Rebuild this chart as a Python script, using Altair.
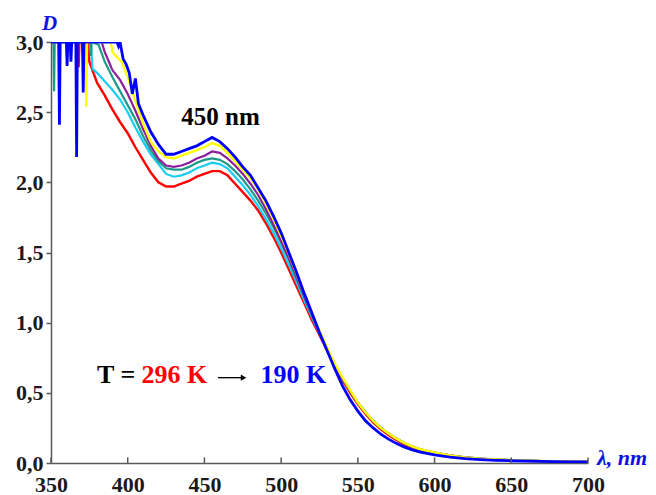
import altair as alt
import pandas as pd

# ---------------- data ----------------
X_TICKS = [350, 400, 450, 500, 550, 600, 650, 700]
Y_TICKS = [0.0, 0.5, 1.0, 1.5, 2.0, 2.5, 3.0]

CURVES = ["296 K", "T2", "T3", "T4", "T5", "190 K"]
COLORS = ["#ff0000", "#18ccf5", "#1f9a8a", "#8c1f9c", "#ffff00", "#0000ff"]
WIDTHS = [2.4, 2.2, 2.2, 2.2, 2.4, 2.8]

# saturated / noisy start of each spectrum
RED_HEAD_LAM = [350, 367.5, 368, 368.5, 374, 375, 380, 385, 390, 395, 400, 405]
RED_HEAD_D = [3.0, 3.0, 2.82, 3.0, 3.0, 2.86, 2.71, 2.62, 2.52, 2.43, 2.35, 2.25]

CYAN_HEAD_LAM = [350, 376, 377, 380, 385, 390, 395, 400, 405]
CYAN_HEAD_D = [3.0, 3.0, 2.81, 2.78, 2.72, 2.66, 2.59, 2.50, 2.39]

TEAL_HEAD_LAM = [350, 351.6, 352, 352.4, 375.5, 376, 376.5, 381, 385, 390, 395, 400, 405]
TEAL_HEAD_D = [3.0, 3.0, 2.65, 3.0, 3.0, 2.90, 3.0, 2.98, 2.86, 2.75, 2.65, 2.55, 2.45]

PURPLE_HEAD_LAM = [350, 383, 385, 388.5, 390, 395, 400, 405]
PURPLE_HEAD_D = [3.0, 3.0, 2.93, 2.84, 2.80, 2.73, 2.63, 2.51]

YELLOW_HEAD_LAM = [350, 372.5, 373, 373.5, 389, 390, 393, 396, 400, 405]
YELLOW_HEAD_D = [3.0, 3.0, 2.54, 3.0, 3.0, 2.93, 2.89, 2.86, 2.75, 2.58]

BLUE_HEAD_LAM = [350, 355, 355.5, 356, 360, 360.5, 361, 362.5, 363, 363.5,
                 366.2, 366.7, 367.2, 370.5, 371, 371.5, 393, 394, 395, 397,
                 399, 401, 403, 405, 407]
BLUE_HEAD_D = [3.0, 3.0, 2.41, 3.0, 3.0, 2.83, 3.0, 3.0, 2.86, 3.0,
               3.0, 2.18, 3.0, 3.0, 2.64, 3.0, 3.0, 2.97, 3.0, 2.88,
               2.84, 2.78, 2.63, 2.74, 2.56]

# common wavelength grid for the rest of each spectrum
LAM_BODY = [410, 415, 420, 425, 430, 435, 440, 445, 450, 455, 460,
            465, 470, 475, 480, 485, 490, 495, 500, 505, 510, 515, 520, 525, 530,
            535, 540, 545, 550, 555, 560, 565, 570, 575, 580, 585, 590, 595, 600,
            610, 620, 630, 640, 650, 660, 670, 680, 690, 700]

RED_BODY = [2.16, 2.07, 2.00, 1.97, 1.97, 1.99, 2.01, 2.04, 2.06, 2.08, 2.08,
            2.05, 1.99, 1.93, 1.87, 1.80, 1.71, 1.61, 1.50, 1.38, 1.26, 1.14, 1.02, 0.91, 0.80,
            0.69, 0.59, 0.50, 0.42, 0.35, 0.29, 0.24, 0.20, 0.165, 0.135, 0.11, 0.095, 0.082, 0.07,
            0.05, 0.037, 0.029, 0.023, 0.019, 0.016, 0.013, 0.011, 0.009, 0.008]
CYAN_BODY = [2.29, 2.20, 2.13, 2.06, 2.04, 2.05, 2.07, 2.10, 2.12, 2.14, 2.13,
             2.10, 2.04, 1.98, 1.91, 1.83, 1.74, 1.64, 1.53, 1.41, 1.29, 1.16, 1.04, 0.92, 0.81,
             0.70, 0.60, 0.51, 0.43, 0.36, 0.30, 0.25, 0.21, 0.172, 0.142, 0.118, 0.099, 0.085, 0.073,
             0.053, 0.039, 0.030, 0.024, 0.020, 0.017, 0.014, 0.012, 0.010, 0.009]
TEAL_BODY = [2.33, 2.23, 2.15, 2.10, 2.09, 2.09, 2.11, 2.14, 2.16, 2.17, 2.16,
             2.13, 2.08, 2.02, 1.95, 1.87, 1.78, 1.68, 1.57, 1.45, 1.31, 1.18, 1.05, 0.93, 0.81,
             0.70, 0.60, 0.51, 0.43, 0.36, 0.30, 0.25, 0.21, 0.174, 0.144, 0.12, 0.10, 0.086, 0.074,
             0.054, 0.040, 0.031, 0.025, 0.021, 0.017, 0.014, 0.012, 0.010, 0.009]
PURPLE_BODY = [2.38, 2.26, 2.17, 2.12, 2.11, 2.12, 2.14, 2.17, 2.19, 2.22, 2.21,
               2.17, 2.12, 2.06, 1.99, 1.91, 1.81, 1.70, 1.58, 1.46, 1.33, 1.19, 1.06, 0.93, 0.81,
               0.70, 0.60, 0.51, 0.43, 0.36, 0.30, 0.25, 0.21, 0.174, 0.144, 0.12, 0.10, 0.086, 0.074,
               0.054, 0.040, 0.031, 0.025, 0.021, 0.017, 0.014, 0.012, 0.010, 0.009]
YELLOW_BODY = [2.42, 2.29, 2.22, 2.18, 2.17, 2.19, 2.21, 2.23, 2.25, 2.28, 2.26,
               2.21, 2.15, 2.09, 2.03, 1.95, 1.85, 1.74, 1.62, 1.49, 1.35, 1.21, 1.07, 0.94, 0.82,
               0.71, 0.61, 0.52, 0.43, 0.36, 0.30, 0.25, 0.21, 0.175, 0.145, 0.12, 0.10, 0.087, 0.075,
               0.054, 0.040, 0.031, 0.025, 0.021, 0.017, 0.014, 0.012, 0.010, 0.009]
BLUE_BODY = [2.48, 2.36, 2.27, 2.20, 2.20, 2.22, 2.24, 2.26, 2.29, 2.32, 2.29,
             2.24, 2.18, 2.11, 2.05, 1.96, 1.87, 1.76, 1.64, 1.50, 1.36, 1.21, 1.07, 0.93, 0.80,
             0.67, 0.55, 0.45, 0.37, 0.30, 0.25, 0.205, 0.17, 0.14, 0.115, 0.095, 0.08, 0.068, 0.058,
             0.042, 0.031, 0.024, 0.019, 0.016, 0.013, 0.011, 0.009, 0.008, 0.007]

HEADS_LAM = [RED_HEAD_LAM, CYAN_HEAD_LAM, TEAL_HEAD_LAM, PURPLE_HEAD_LAM, YELLOW_HEAD_LAM, BLUE_HEAD_LAM]
HEADS_D = [RED_HEAD_D, CYAN_HEAD_D, TEAL_HEAD_D, PURPLE_HEAD_D, YELLOW_HEAD_D, BLUE_HEAD_D]
BODIES = [RED_BODY, CYAN_BODY, TEAL_BODY, PURPLE_BODY, YELLOW_BODY, BLUE_BODY]

# ---------------- chart ----------------
FONT = "Liberation Serif"
LABEL_COLOR = "#1a1a1a"
AXIS_COLOR = "#5a5a5a"

x_scale = alt.Scale(domain=[350, 700], nice=False, zero=False)
y_scale = alt.Scale(domain=[0, 3], nice=False, zero=False)

x_axis = alt.Axis(values=X_TICKS, format="d", title=None, ticks=False,
                  labelPadding=11, grid=False, labelFont=FONT)
y_axis = alt.Axis(values=Y_TICKS, title=None, ticks=True, tickSize=5,
                  labelPadding=3, grid=False, labelFont=FONT,
                  labelExpr="replace(format(datum.value, '.1f'), '.', ',')")

layers = []
for i, name in enumerate(CURVES):
    lam = HEADS_LAM[i] + LAM_BODY
    d = HEADS_D[i] + BODIES[i]
    df = pd.DataFrame({"lam": lam, "D": d, "curve": name})
    line = alt.Chart(df).mark_line(color=COLORS[i], strokeWidth=WIDTHS[i], clip=True).encode(
        x=alt.X("lam:Q", scale=x_scale, axis=x_axis),
        y=alt.Y("D:Q", scale=y_scale, axis=y_axis),
        order="lam:Q",
    )
    layers.append(line)

# inward ticks on the wavelength axis
ticks = alt.Chart(pd.DataFrame({"lam": X_TICKS})).mark_rule(color=AXIS_COLOR, strokeWidth=1.5).encode(
    x=alt.X("lam:Q", scale=x_scale),
    y=alt.datum(0),
    y2=alt.datum(0.04),
)
layers.append(ticks)

one = pd.DataFrame({"k": [0]})


def label(text, lam, d, color="black", size=25, align="left"):
    return alt.Chart(one).mark_text(
        text=text, font=FONT, fontSize=size, fontWeight="bold",
        color=color, align=align, baseline="alphabetic",
    ).encode(x=alt.datum(lam), y=alt.datum(d))


layers.append(label("450 nm", 460.5, 2.41, align="center", size=25))
layers.append(label("T =", 380, 0.57, size=26))
layers.append(label("296 K", 409, 0.57, color="#ff0000", size=26))
layers.append(label("190 K", 486.5, 0.57, color="#0000ff", size=26))

# arrow between the temperatures
arrow_line = alt.Chart(one).mark_rule(color="black", strokeWidth=1.3).encode(
    x=alt.datum(458.8), x2=alt.datum(475.5), y=alt.datum(0.608)
)
arrow_head = alt.Chart(one).mark_point(shape="triangle-right", size=40, filled=True,
                                       color="black", opacity=1).encode(
    x=alt.datum(475.5), y=alt.datum(0.608)
)
layers += [arrow_line, arrow_head]

# axis titles (blue italic)
d_title = alt.Chart(one).mark_text(text="D", font=FONT, fontSize=21, fontWeight="bold",
                                   fontStyle="italic", color="#1010e0", align="left",
                                   baseline="alphabetic").encode(x=alt.value(-9), y=alt.value(-12))
lam_title = alt.Chart(one).mark_text(text="λ, nm", font=FONT, fontSize=22, fontWeight="bold",
                                     fontStyle="italic", color="#1010e0", align="left",
                                     baseline="alphabetic").encode(x=alt.value(546), y=alt.value(423))
layers += [d_title, lam_title]

chart = alt.layer(*layers).properties(
    width=537, height=421,
    padding={"left": 43, "top": 34, "right": 60, "bottom": 32},
    autosize=alt.AutoSizeParams(type="none"),
).configure_view(stroke=None).configure_axis(
    labelFont=FONT, labelFontSize=22, labelFontWeight="bold", labelColor=LABEL_COLOR,
    domainColor=AXIS_COLOR, domainWidth=1.5, tickColor=AXIS_COLOR, tickWidth=1.5,
    labelFlush=False, labelOverlap=False,
).configure_text(font=FONT)

chart.save("out.html", embed_options={"renderer": "svg", "actions": False})
